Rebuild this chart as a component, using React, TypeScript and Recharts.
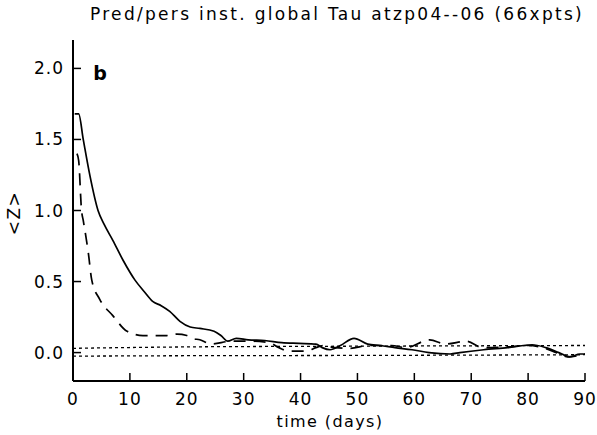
import { LineChart, Line, XAxis, YAxis } from "recharts"

// solid curve (pred)
const solidDays = [0.3, 1, 1.8, 3, 4.4, 5.5, 7, 8.8, 10.9, 12.5, 14, 15.5, 17, 18.8, 20.6, 22.3, 24.8, 26, 27.2, 28.7, 30.8, 33.7, 36.7, 39.7, 42.7, 43.8, 45.2, 47, 49.4, 51.8, 54, 56.6, 59.6, 62.6, 66.3, 68, 72.2, 76.4, 80.7, 83.1, 85.4, 87.3, 89.1, 90]
const solidVals = [1.68, 1.68, 1.5, 1.24, 1.0, 0.9, 0.79, 0.65, 0.51, 0.43, 0.36, 0.33, 0.29, 0.22, 0.18, 0.17, 0.15, 0.12, 0.08, 0.1, 0.09, 0.085, 0.07, 0.065, 0.06, 0.035, 0.02, 0.05, 0.1, 0.06, 0.05, 0.035, 0.02, 0.0, -0.01, 0.0, 0.02, 0.035, 0.055, 0.035, 0.0, -0.03, -0.01, -0.01]

// dashed curve (pers)
const dashedDays = [0.7, 1, 1.5, 1.8, 2.7, 3.3, 4.7, 7, 9.5, 12.3, 16.5, 18.3, 20, 21, 22.3, 24.3, 27.8, 31.5, 34.5, 36.2, 38, 41, 42.7, 44, 46, 48.7, 52, 56, 58.5, 62.7, 65.5, 69.2, 72, 76.4, 80, 82.5, 85, 87, 90]
const dashedVals = [1.4, 1.35, 1.0, 0.93, 0.7, 0.51, 0.375, 0.26, 0.15, 0.12, 0.12, 0.13, 0.12, 0.1, 0.09, 0.06, 0.08, 0.08, 0.07, 0.035, 0.01, 0.01, 0.035, 0.05, 0.035, 0.03, 0.05, 0.05, 0.035, 0.09, 0.06, 0.08, 0.035, 0.04, 0.05, 0.035, 0.0, -0.03, -0.01]

// dotted reference curves
const dotDays = [0, 20, 50, 90]
const dotUpper = [0.03, 0.04, 0.045, 0.05]
const dotLower = [-0.025, -0.022, -0.02, -0.015]

const xTicks = [0, 10, 20, 30, 40, 50, 60, 70, 80, 90]
const yTicks = [0, 0.5, 1, 1.5, 2]

const solidData = solidDays.map((d, i) => ({ day: d, z: solidVals[i] }))
const dashedData = dashedDays.map((d, i) => ({ day: d, z: dashedVals[i] }))
const upperData = dotDays.map((d, i) => ({ day: d, z: dotUpper[i] }))
const lowerData = dotDays.map((d, i) => ({ day: d, z: dotLower[i] }))

const font = "DejaVu Sans"

function XTick(props: any) {
  const { x, y, payload } = props
  return (
    <g>
      <line x1={x} y1={y} x2={x} y2={y - 8} stroke="#000" strokeWidth={1.5} />
      <text x={x} y={y + 24} textAnchor="middle" fontFamily={font} fontSize={17} letterSpacing={1} fill="#000">
        {payload.value}
      </text>
    </g>
  )
}

function YTick(props: any) {
  const { x, y, payload } = props
  return (
    <g>
      <line x1={x} y1={y} x2={x + 8} y2={y} stroke="#000" strokeWidth={1.5} />
      <text x={x - 9} y={y + 6} textAnchor="end" fontFamily={font} fontSize={17} letterSpacing={1} fill="#000">
        {Number(payload.value).toFixed(1)}
      </text>
    </g>
  )
}

export default function App() {
  return (
    <div style={{ position: "absolute", left: 0, top: 0, background: "#fff" }}>
      <LineChart width={597} height={435} margin={{ top: 40, right: 12, bottom: 0, left: 0 }}>
        <XAxis
          type="number"
          dataKey="day"
          domain={[0, 90]}
          ticks={xTicks}
          height={54}
          tickSize={0}
          tickMargin={0}
          tickLine={false}
          axisLine={{ stroke: "#000", strokeWidth: 2 }}
          tick={<XTick />}
          allowDataOverflow
        />
        <YAxis
          type="number"
          dataKey="z"
          domain={[-0.2, 2.2]}
          ticks={yTicks}
          width={73}
          tickSize={0}
          tickMargin={0}
          tickLine={false}
          axisLine={{ stroke: "#000", strokeWidth: 2 }}
          tick={<YTick />}
          allowDataOverflow
        />
        <Line data={upperData} dataKey="z" type="monotone" stroke="#000" strokeWidth={1.3} strokeDasharray="3 3" dot={false} isAnimationActive={false} />
        <Line data={lowerData} dataKey="z" type="monotone" stroke="#000" strokeWidth={1.3} strokeDasharray="3 3" dot={false} isAnimationActive={false} />
        <Line data={dashedData} dataKey="z" type="monotone" stroke="#000" strokeWidth={1.7} strokeDasharray="12 8" dot={false} isAnimationActive={false} />
        <Line data={solidData} dataKey="z" type="monotone" stroke="#000" strokeWidth={1.7} dot={false} isAnimationActive={false} />
        <text x={337} y={20} textAnchor="middle" fontFamily={font} fontSize={17} letterSpacing={2.3} fill="#000">
          Pred/pers inst. global Tau atzp04--06 (66xpts)
        </text>
        <text x={100} y={80} textAnchor="middle" fontFamily={font} fontSize={19} fontWeight="bold" fill="#000">
          b
        </text>
        <text x={330} y={427} textAnchor="middle" fontFamily={font} fontSize={16} letterSpacing={1.4} fill="#000">
          time (days)
        </text>
        <text x={20} y={213} textAnchor="middle" fontFamily={font} fontSize={17} letterSpacing={1.5} fill="#000" transform="rotate(-90 20 213)">
          {"<Z>"}
        </text>
      </LineChart>
    </div>
  )
}
